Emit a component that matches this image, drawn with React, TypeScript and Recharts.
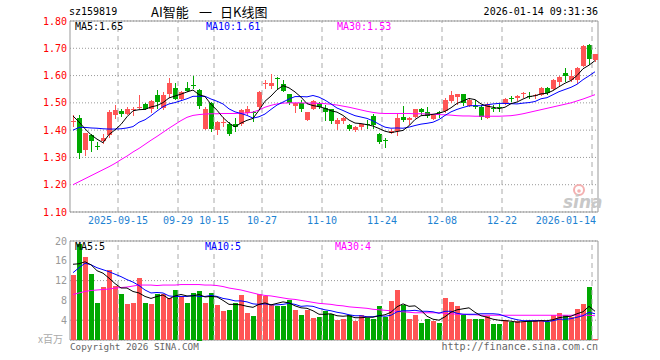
import { ComposedChart, Bar, Line, XAxis, YAxis, CartesianGrid, ReferenceLine, ReferenceArea } from 'recharts';

// trading days shown on the chart
const dates = [
  '2025-09-03', '2025-09-04', '2025-09-05', '2025-09-08', '2025-09-09', '2025-09-10', '2025-09-11', '2025-09-12',
  '2025-09-15', '2025-09-16', '2025-09-17', '2025-09-18', '2025-09-19', '2025-09-22', '2025-09-23', '2025-09-24',
  '2025-09-25', '2025-09-26', '2025-09-29', '2025-09-30', '2025-10-09', '2025-10-10', '2025-10-13', '2025-10-14',
  '2025-10-15', '2025-10-16', '2025-10-17', '2025-10-20', '2025-10-21', '2025-10-22', '2025-10-23', '2025-10-24',
  '2025-10-27', '2025-10-28', '2025-10-29', '2025-10-30', '2025-10-31', '2025-11-03', '2025-11-04', '2025-11-05',
  '2025-11-06', '2025-11-07', '2025-11-10', '2025-11-11', '2025-11-12', '2025-11-13', '2025-11-14', '2025-11-17',
  '2025-11-18', '2025-11-19', '2025-11-20', '2025-11-21', '2025-11-24', '2025-11-25', '2025-11-26', '2025-11-27',
  '2025-11-28', '2025-12-01', '2025-12-02', '2025-12-03', '2025-12-04', '2025-12-05', '2025-12-08', '2025-12-09',
  '2025-12-10', '2025-12-11', '2025-12-12', '2025-12-15', '2025-12-16', '2025-12-17', '2025-12-18', '2025-12-19',
  '2025-12-22', '2025-12-23', '2025-12-24', '2025-12-25', '2025-12-26', '2025-12-29', '2025-12-30', '2025-12-31',
  '2026-01-05', '2026-01-06', '2026-01-07', '2026-01-08', '2026-01-09', '2026-01-12', '2026-01-13', '2026-01-14',
];

const openPrices = [
  1.430, 1.446, 1.324, 1.381, 1.341, 1.358, 1.381, 1.455, 1.471, 1.459,
  1.475, 1.482, 1.495, 1.477, 1.528, 1.480, 1.529, 1.556, 1.513, 1.556,
  1.566, 1.546, 1.406, 1.498, 1.400, 1.427, 1.424, 1.422, 1.422, 1.461,
  1.468, 1.485, 1.572, 1.561, 1.590, 1.568, 1.532, 1.488, 1.498, 1.437,
  1.476, 1.498, 1.482, 1.476, 1.424, 1.434, 1.418, 1.400, 1.409, 1.423,
  1.451, 1.385, 1.365, 1.388, 1.394, 1.449, 1.434, 1.449, 1.477, 1.467,
  1.440, 1.467, 1.471, 1.507, 1.524, 1.532, 1.489, 1.490, 1.484, 1.443,
  1.480, 1.485, 1.496, 1.518, 1.517, 1.533, 1.526, 1.527, 1.529, 1.553,
  1.551, 1.578, 1.608, 1.586, 1.584, 1.635, 1.712, 1.657,
];
const highPrices = [
  1.454, 1.456, 1.390, 1.387, 1.356, 1.385, 1.473, 1.491, 1.476, 1.485,
  1.485, 1.530, 1.500, 1.512, 1.546, 1.540, 1.591, 1.571, 1.545, 1.577,
  1.598, 1.550, 1.485, 1.504, 1.432, 1.449, 1.430, 1.446, 1.479, 1.488,
  1.470, 1.544, 1.583, 1.605, 1.595, 1.583, 1.534, 1.500, 1.512, 1.468,
  1.512, 1.504, 1.491, 1.479, 1.446, 1.449, 1.424, 1.414, 1.424, 1.439,
  1.458, 1.388, 1.373, 1.405, 1.461, 1.488, 1.449, 1.479, 1.480, 1.485,
  1.457, 1.471, 1.516, 1.543, 1.534, 1.534, 1.517, 1.511, 1.492, 1.498,
  1.492, 1.498, 1.517, 1.525, 1.529, 1.541, 1.541, 1.533, 1.557, 1.559,
  1.586, 1.599, 1.627, 1.621, 1.630, 1.712, 1.716, 1.679,
];
const lowPrices = [
  1.411, 1.294, 1.305, 1.320, 1.327, 1.348, 1.370, 1.440, 1.449, 1.455,
  1.452, 1.476, 1.473, 1.462, 1.479, 1.473, 1.516, 1.510, 1.510, 1.540,
  1.552, 1.477, 1.402, 1.394, 1.382, 1.412, 1.378, 1.394, 1.415, 1.455,
  1.430, 1.479, 1.552, 1.549, 1.552, 1.538, 1.491, 1.463, 1.467, 1.433,
  1.473, 1.479, 1.433, 1.424, 1.400, 1.422, 1.398, 1.394, 1.400, 1.406,
  1.406, 1.351, 1.333, 1.385, 1.378, 1.430, 1.418, 1.443, 1.455, 1.443,
  1.437, 1.443, 1.463, 1.500, 1.491, 1.489, 1.486, 1.476, 1.437, 1.440,
  1.468, 1.468, 1.492, 1.504, 1.508, 1.517, 1.514, 1.513, 1.526, 1.529,
  1.547, 1.563, 1.578, 1.578, 1.569, 1.630, 1.639, 1.651,
];
const closePrices = [
  1.432, 1.317, 1.388, 1.360, 1.336, 1.370, 1.466, 1.473, 1.459, 1.479,
  1.477, 1.486, 1.478, 1.507, 1.504, 1.528, 1.571, 1.517, 1.538, 1.544,
  1.563, 1.489, 1.479, 1.402, 1.430, 1.429, 1.388, 1.412, 1.473, 1.476,
  1.465, 1.540, 1.574, 1.571, 1.588, 1.544, 1.500, 1.498, 1.476, 1.467,
  1.507, 1.483, 1.467, 1.433, 1.439, 1.446, 1.402, 1.412, 1.421, 1.420,
  1.418, 1.357, 1.362, 1.396, 1.443, 1.437, 1.443, 1.477, 1.465, 1.451,
  1.455, 1.464, 1.510, 1.528, 1.534, 1.498, 1.511, 1.488, 1.449, 1.496,
  1.478, 1.483, 1.513, 1.516, 1.525, 1.535, 1.524, 1.529, 1.553, 1.533,
  1.584, 1.596, 1.596, 1.599, 1.627, 1.709, 1.660, 1.679,
];

const priceMa5 = [
  1.452, 1.430, 1.405, 1.383, 1.367, 1.354, 1.384, 1.401, 1.421, 1.449,
  1.471, 1.475, 1.476, 1.485, 1.490, 1.501, 1.518, 1.525, 1.532, 1.540,
  1.547, 1.530, 1.523, 1.495, 1.473, 1.446, 1.426, 1.412, 1.426, 1.436,
  1.443, 1.473, 1.506, 1.525, 1.548, 1.563, 1.555, 1.540, 1.521, 1.497,
  1.490, 1.486, 1.480, 1.471, 1.466, 1.454, 1.437, 1.426, 1.424, 1.420,
  1.415, 1.406, 1.396, 1.391, 1.395, 1.399, 1.416, 1.439, 1.453, 1.455,
  1.458, 1.462, 1.469, 1.482, 1.498, 1.507, 1.516, 1.512, 1.496, 1.488,
  1.484, 1.479, 1.484, 1.497, 1.503, 1.514, 1.523, 1.526, 1.533, 1.535,
  1.545, 1.559, 1.572, 1.582, 1.600, 1.625, 1.638, 1.655,
];
const priceMa10 = [
  1.400, 1.410, 1.410, 1.408, 1.407, 1.405, 1.404, 1.404, 1.405, 1.408,
  1.413, 1.429, 1.438, 1.453, 1.470, 1.486, 1.496, 1.501, 1.508, 1.515,
  1.524, 1.524, 1.524, 1.514, 1.506, 1.496, 1.478, 1.467, 1.461, 1.454,
  1.444, 1.449, 1.459, 1.476, 1.492, 1.503, 1.514, 1.523, 1.523, 1.522,
  1.527, 1.521, 1.510, 1.496, 1.481, 1.472, 1.462, 1.453, 1.448, 1.443,
  1.434, 1.422, 1.411, 1.407, 1.408, 1.407, 1.411, 1.417, 1.422, 1.425,
  1.429, 1.439, 1.454, 1.467, 1.476, 1.483, 1.489, 1.490, 1.489, 1.493,
  1.496, 1.498, 1.498, 1.497, 1.496, 1.499, 1.501, 1.505, 1.515, 1.519,
  1.530, 1.541, 1.549, 1.557, 1.568, 1.585, 1.599, 1.614,
];
const priceMa30 = [
  1.200, 1.211, 1.222, 1.233, 1.244, 1.255, 1.266, 1.278, 1.292, 1.305,
  1.320, 1.333, 1.348, 1.363, 1.377, 1.392, 1.407, 1.421, 1.435, 1.447,
  1.454, 1.457, 1.459, 1.460, 1.460, 1.461, 1.461, 1.461, 1.462, 1.463,
  1.466, 1.474, 1.484, 1.491, 1.496, 1.499, 1.500, 1.500, 1.500, 1.499,
  1.499, 1.498, 1.497, 1.495, 1.492, 1.488, 1.484, 1.479, 1.474, 1.469,
  1.465, 1.462, 1.461, 1.461, 1.461, 1.461, 1.461, 1.460, 1.460, 1.459,
  1.458, 1.457, 1.456, 1.455, 1.453, 1.452, 1.452, 1.451, 1.451, 1.451,
  1.451, 1.451, 1.452, 1.453, 1.456, 1.460, 1.465, 1.470, 1.475, 1.480,
  1.485, 1.490, 1.495, 1.500, 1.507, 1.514, 1.522, 1.530,
];

// volume in millions
const volumes = [
  13.2, 19.3, 16.7, 13.3, 7.5, 10.8, 14.2, 11.0, 9.2, 7.2,
  7.5, 12.5, 7.5, 7.2, 9.2, 9.3, 8.5, 10.2, 8.8, 7.5,
  9.5, 10.0, 7.5, 9.5, 7.0, 5.8, 6.0, 7.5, 9.0, 5.5,
  4.9, 9.2, 8.8, 7.0, 6.9, 6.8, 8.0, 6.0, 5.0, 6.0,
  4.5, 4.7, 5.8, 5.3, 4.0, 4.2, 5.1, 3.9, 5.1, 4.5,
  4.2, 6.8, 4.7, 7.8, 10.2, 7.1, 4.2, 5.0, 3.5, 4.3,
  3.8, 3.5, 8.5, 7.7, 6.8, 5.1, 4.2, 4.3, 4.3, 4.9,
  3.2, 3.2, 4.1, 3.7, 3.8, 3.7, 3.8, 4.1, 4.1, 3.7,
  5.0, 5.5, 5.0, 4.7, 6.2, 7.2, 10.8, 0.3,
];
const volMa5 = [
  15.3, 15.4, 15.8, 15.2, 14.0, 13.5, 12.5, 11.4, 10.5, 10.5,
  9.8, 9.5, 8.8, 8.4, 8.8, 9.1, 8.3, 8.9, 9.2, 8.9,
  8.9, 9.2, 8.7, 8.8, 8.7, 8.0, 7.2, 7.2, 7.1, 6.8,
  6.6, 7.2, 7.5, 7.1, 7.4, 7.7, 7.5, 6.9, 6.5, 6.4,
  5.9, 5.2, 5.2, 5.3, 4.9, 4.8, 4.9, 4.5, 4.5, 4.6,
  4.6, 4.9, 5.1, 5.6, 6.7, 7.3, 6.8, 6.9, 6.0, 4.8,
  4.2, 4.0, 4.7, 5.6, 6.1, 6.3, 6.5, 5.6, 4.9, 4.6,
  4.2, 4.0, 3.9, 3.8, 3.6, 3.7, 3.8, 3.8, 3.9, 3.9,
  4.1, 4.5, 4.7, 4.8, 5.3, 5.7, 6.8, 5.8,
];
const volMa10 = [
  13.6, 14.6, 15.5, 15.2, 14.6, 14.2, 13.8, 13.3, 12.8, 12.2,
  11.7, 11.0, 10.1, 9.5, 9.6, 9.5, 8.9, 8.8, 8.8, 8.8,
  9.0, 8.8, 8.8, 9.0, 8.8, 8.4, 8.2, 7.9, 7.9, 7.7,
  7.3, 7.2, 7.3, 7.1, 7.1, 7.2, 7.4, 7.2, 6.8, 6.9,
  6.8, 6.4, 6.1, 5.9, 5.6, 5.4, 5.1, 4.9, 4.9, 4.7,
  4.7, 4.9, 4.8, 5.0, 5.7, 5.9, 5.9, 6.0, 5.8, 5.8,
  5.7, 5.4, 5.8, 5.8, 5.4, 5.2, 5.2, 5.2, 5.3, 5.3,
  5.3, 5.2, 4.8, 4.4, 4.1, 3.9, 3.9, 3.9, 3.9, 3.7,
  3.9, 4.2, 4.2, 4.3, 4.6, 4.9, 5.6, 5.3,
];
const volMa30 = [
  9.2, 9.5, 9.8, 10.0, 10.1, 10.2, 10.3, 10.5, 10.6, 10.7,
  10.9, 11.1, 11.1, 11.1, 11.0, 11.1, 11.1, 11.1, 11.2, 11.2,
  11.2, 11.2, 11.1, 11.1, 11.0, 10.8, 10.5, 10.3, 10.1, 9.8,
  9.5, 9.2, 9.0, 8.9, 8.7, 8.5, 8.3, 8.2, 8.0, 7.8,
  7.6, 7.4, 7.3, 7.2, 7.0, 6.9, 6.7, 6.6, 6.5, 6.4,
  6.2, 6.1, 6.0, 5.9, 5.8, 5.7, 5.6, 5.5, 5.5, 5.5,
  5.5, 5.5, 5.4, 5.3, 5.2, 5.2, 5.1, 5.1, 5.0, 5.0,
  5.0, 5.0, 5.0, 5.0, 5.0, 5.0, 5.0, 5.0, 5.0, 5.0,
  5.0, 5.0, 5.0, 5.0, 5.1, 5.0, 5.0, 4.9,
];

const tickDates = ['2025-09-15', '2025-09-29', '2025-10-15', '2025-10-27', '2025-11-10', '2025-11-24', '2025-12-08', '2025-12-22', '2026-01-14'];
const tickLabels = ['2025-09-15', '09-29', '10-15', '10-27', '11-10', '11-24', '12-08', '12-22', '2026-01-14'];
const priceTicks = [1.1, 1.2, 1.3, 1.4, 1.5, 1.6, 1.7, 1.8];
const volumeTicks = [4, 8, 12, 16, 20];

const MONO = '"DejaVu Sans Mono", monospace';
const CJK = '"Noto Sans CJK SC", sans-serif';
const RED = '#ff5555';
const GREEN = '#00a800';
const PLOT_LEFT = 70;
const PLOT_RIGHT = 598;
const SLOT = (PLOT_RIGHT - PLOT_LEFT) / dates.length;

const rows = dates.map((date, i) => ({
  date,
  open: openPrices[i],
  high: highPrices[i],
  low: lowPrices[i],
  close: closePrices[i],
  range: [lowPrices[i], highPrices[i]],
  ma5: priceMa5[i],
  ma10: priceMa10[i],
  ma30: priceMa30[i],
  volume: volumes[i],
  vma5: volMa5[i],
  vma10: volMa10[i],
  vma30: volMa30[i],
}));

function Candle(props: any) {
  const { x, y, height, payload } = props;
  const { open, close, high, low } = payload;
  const color = close >= open ? RED : GREEN;
  const top = Math.min(y, y + height);
  const span = Math.abs(height);
  const k = high === low ? 0 : span / (high - low);
  const yOpen = top + (high - open) * k;
  const yClose = top + (high - close) * k;
  const left = Math.floor(x);
  const bodyTop = Math.round(Math.min(yOpen, yClose));
  const bodyH = Math.max(1, Math.round(Math.abs(yOpen - yClose)));
  return (
    <g>
      <line x1={left + 2.5} x2={left + 2.5} y1={Math.round(top)} y2={Math.round(top + span)} stroke={color} strokeWidth={1} />
      <rect x={left} y={bodyTop} width={5} height={bodyH} fill={color} />
    </g>
  );
}

function VolumeBar(props: any) {
  const { x, y, height, payload } = props;
  const color = payload.close >= payload.open ? RED : GREEN;
  const top = Math.round(Math.min(y, y + height));
  const h = Math.max(1, Math.round(Math.abs(height)));
  return <rect x={Math.floor(x)} y={top} width={5} height={h} fill={color} />;
}

function DateTick(props: any) {
  const { x, y, payload } = props;
  const k = tickDates.indexOf(payload.value);
  if (k < 0) return <g />;
  const label = tickLabels[k];
  const gx = Math.round(x - SLOT / 2);
  const overflow = gx + label.length * 3 > PLOT_RIGHT;
  return (
    <text x={overflow ? gx + 4 : gx} y={y + 12} textAnchor={overflow ? 'end' : 'middle'} fill="#1e82d2" fontSize={10} fontFamily={MONO}>
      {label}
    </text>
  );
}

function DateLines() {
  return tickDates.map((d) => (
    <ReferenceLine key={d} x={d} position="start" stroke="#aaa" strokeDasharray="5 4" />
  ));
}

const text = (left: number, top: number, size: number, color: string, family = MONO) => ({
  position: 'absolute' as const,
  left,
  top,
  fontSize: size,
  lineHeight: `${size + 2}px`,
  color,
  fontFamily: family,
  whiteSpace: 'nowrap' as const,
});

export default function App() {
  return (
    <div style={{ position: 'absolute', left: 0, top: 0, width: 660, height: 360, background: '#fff', overflow: 'hidden' }}>
      <div style={text(69, 6, 10, '#000')}>sz159819</div>
      <div style={text(151, 4, 13, '#000', CJK)}>AI智能</div>
      <div style={text(199, 4, 13, '#000', CJK)}>一</div>
      <div style={text(220, 4, 13, '#000', CJK)}>日K线图</div>
      <div style={{ ...text(0, 6, 10, '#000'), left: 'auto', right: 62 }}>2026-01-14 09:31:36</div>

      <div style={{ position: 'absolute', left: 0, top: 0 }}>
        <ComposedChart width={660} height={230} data={rows} margin={{ top: 21, right: 62, bottom: 0, left: 10 }}>
          <CartesianGrid vertical={false} stroke="#999" strokeDasharray="1 2" />
          {DateLines()}
          <ReferenceArea x1={dates[0]} x2={dates[dates.length - 1]} y1={1.1} y2={1.8} fill="none" stroke="#999" />
          <XAxis dataKey="date" height={18} interval={0} tick={<DateTick />} axisLine={false} tickLine={false} tickSize={0} tickMargin={0} />
          <YAxis
            width={60}
            domain={[1.1, 1.8]}
            ticks={priceTicks}
            tickFormatter={(v: number) => v.toFixed(2)}
            axisLine={false}
            tickLine={false}
            tickSize={0}
            tickMargin={3}
            tick={{ fill: '#f00', fontSize: 10, fontFamily: MONO }}
          />
          <Bar dataKey="range" barSize={5} shape={<Candle />} isAnimationActive={false} />
          <Line dataKey="ma30" stroke="#ff00ff" strokeWidth={1} dot={false} isAnimationActive={false} />
          <Line dataKey="ma10" stroke="#0000ff" strokeWidth={1} dot={false} isAnimationActive={false} />
          <Line dataKey="ma5" stroke="#000" strokeWidth={1} dot={false} isAnimationActive={false} />
        </ComposedChart>
      </div>

      <div style={{ position: 'absolute', left: 0, top: 230 }}>
        <ComposedChart width={660} height={130} data={rows} margin={{ top: 11, right: 62, bottom: 20, left: 10 }}>
          <CartesianGrid vertical={false} stroke="#999" strokeDasharray="1 2" />
          {DateLines()}
          <ReferenceArea x1={dates[0]} x2={dates[dates.length - 1]} y1={0} y2={20} fill="none" stroke="#999" />
          <XAxis dataKey="date" hide />
          <YAxis
            width={60}
            domain={[0, 20]}
            ticks={volumeTicks}
            axisLine={false}
            tickLine={false}
            tickSize={0}
            tickMargin={3}
            tick={{ fill: '#999', fontSize: 10, fontFamily: MONO }}
          />
          <Bar dataKey="volume" barSize={5} shape={<VolumeBar />} isAnimationActive={false} />
          <Line dataKey="vma30" stroke="#ff00ff" strokeWidth={1} dot={false} isAnimationActive={false} />
          <Line dataKey="vma10" stroke="#0000ff" strokeWidth={1} dot={false} isAnimationActive={false} />
          <Line dataKey="vma5" stroke="#000" strokeWidth={1} dot={false} isAnimationActive={false} />
        </ComposedChart>
      </div>

      <div style={text(75, 21, 10, '#000')}>MA5:1.65</div>
      <div style={text(206, 21, 10, '#0000ff')}>MA10:1.61</div>
      <div style={text(337, 21, 10, '#ff00ff')}>MA30:1.53</div>

      <div style={text(75, 241, 10, '#000')}>MA5:5</div>
      <div style={text(205, 241, 10, '#0000ff')}>MA10:5</div>
      <div style={text(335, 241, 10, '#ff00ff')}>MA30:4</div>

      <div style={text(38, 333, 10, '#aaa', CJK)}>x百万</div>
      <div style={text(70, 341, 9.3, '#666')}>Copyright 2026 SINA.COM</div>
      <div style={{ ...text(0, 341, 10, '#666'), left: 'auto', right: 62 }}>http://finance.sina.com.cn</div>

      <svg width={660} height={360} style={{ position: 'absolute', left: 0, top: 0, pointerEvents: 'none' }}>
        <circle cx={579} cy={190} r={5} fill="none" stroke="#f4b0b0" strokeWidth={2} />
        <circle cx={579} cy={191} r={1.8} fill="#f4b0b0" />
        <text x={563} y={208} fontSize={17} fontStyle="italic" fontWeight="bold" fill="#c8c8c8" fontFamily='"DejaVu Sans", sans-serif'>
          sina
        </text>
      </svg>
    </div>
  );
}
